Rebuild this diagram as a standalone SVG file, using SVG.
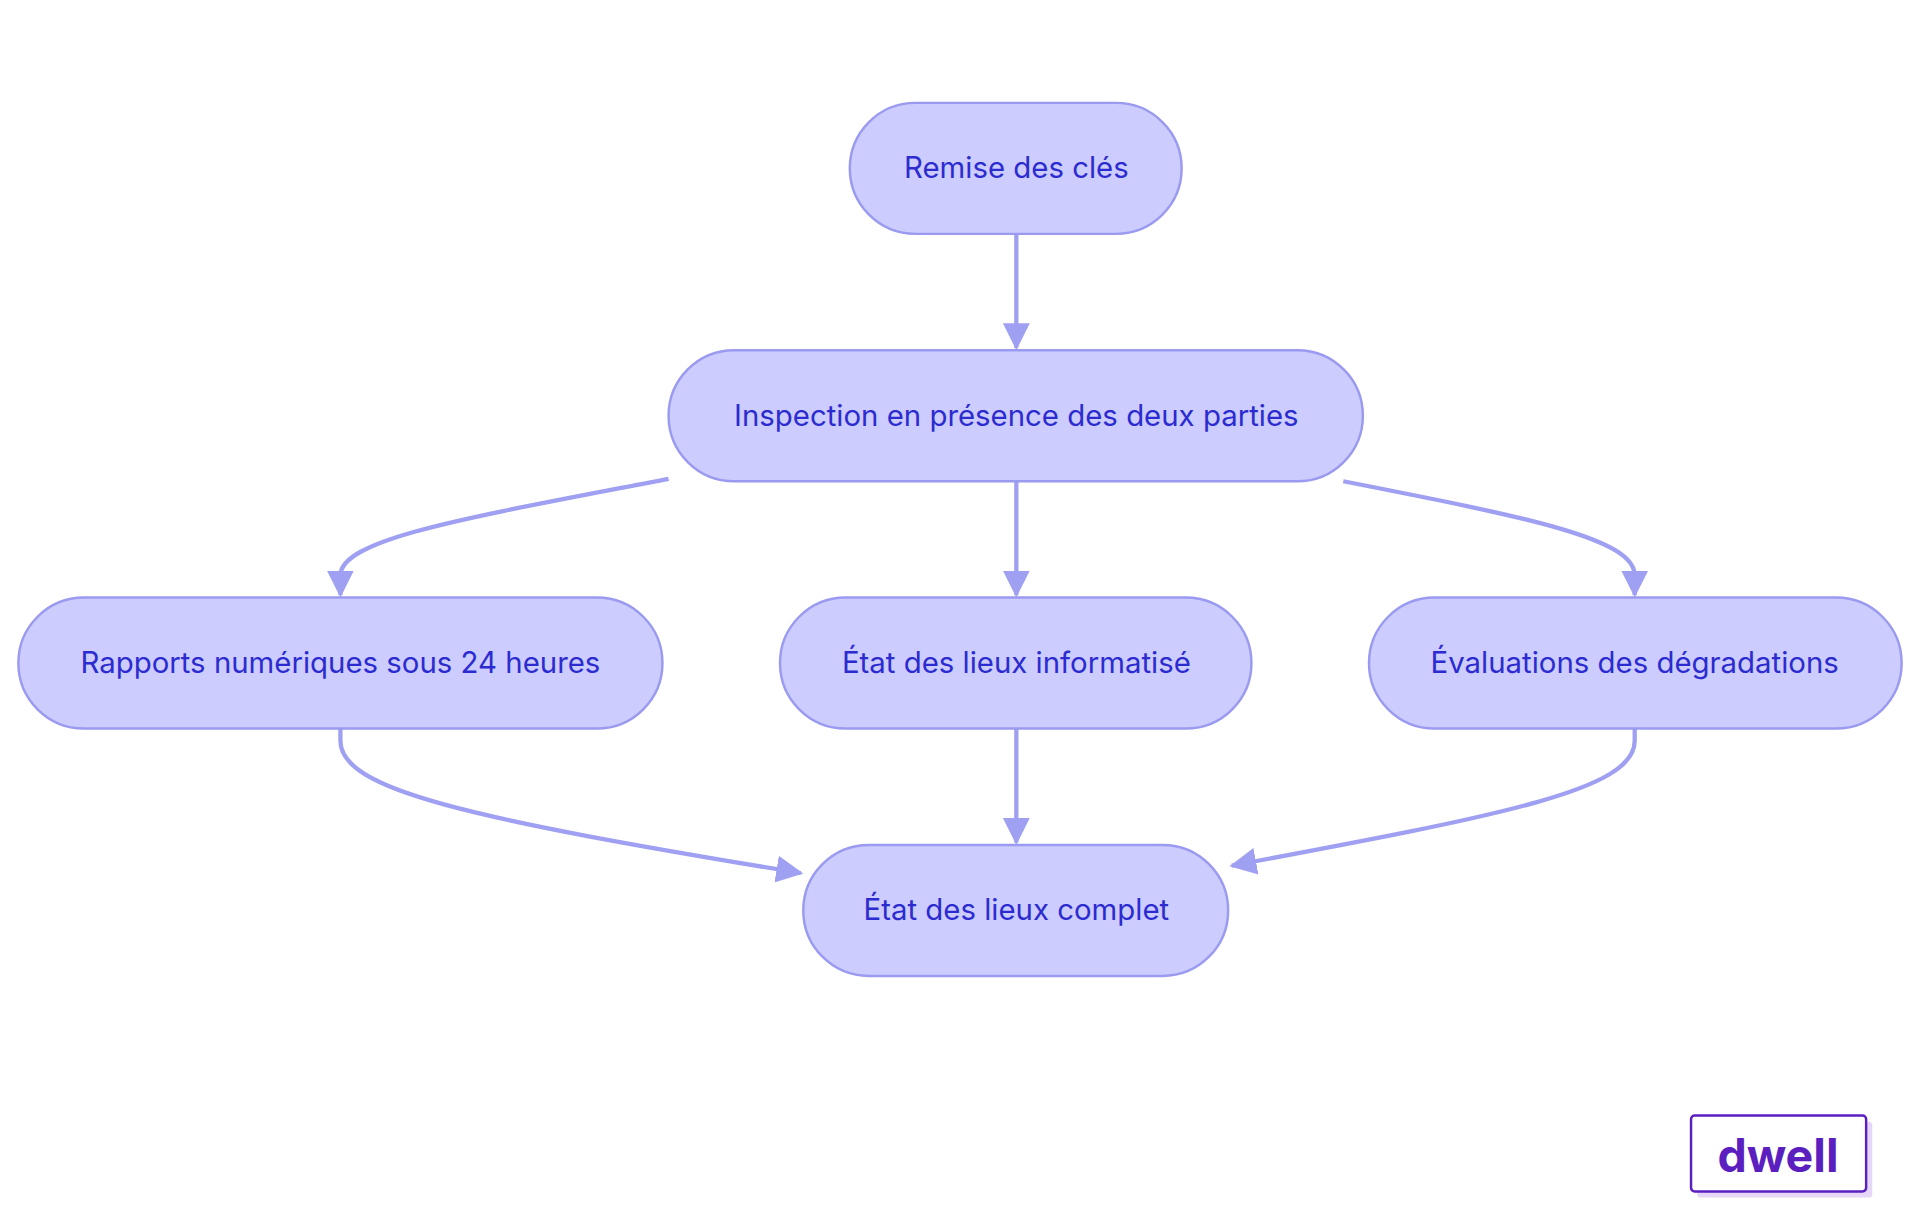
<svg xmlns="http://www.w3.org/2000/svg" width="1920" height="1215" viewBox="0 0 1920 1215">
<style>
.n rect{fill:#ccccff;stroke:#9a9af0;stroke-width:2}
.n text{font-family:Inter,"Noto Sans",sans-serif;font-size:24px;fill:#2b2bd0;text-anchor:middle;dominant-baseline:central}
.e path{fill:none;stroke:#9fa0f2;stroke-width:3.5}
</style>
<defs>
<marker id="a" markerUnits="userSpaceOnUse" markerWidth="24" markerHeight="24" viewBox="0 0 24 24" refX="20" refY="12" orient="auto">
<path d="M0,1 L22,12 L0,23 Z" fill="#9fa0f2"/>
</marker>
</defs>
<rect width="1920" height="1215" fill="#fff"/>
<g transform="scale(1.2245)">
<g class="e">
<path d="M830,191 L830,284" marker-end="url(#a)"/>
<path d="M546,391 C380,423 278,440 278,470 L278,486" marker-end="url(#a)"/>
<path d="M830,393 L830,486" marker-end="url(#a)"/>
<path d="M1097,393 C1250,423 1335,440 1335,470 L1335,486" marker-end="url(#a)"/>
<path d="M278,595 L278,605 C278,645 380,668 654,713" marker-end="url(#a)"/>
<path d="M830,595 L830,688" marker-end="url(#a)"/>
<path d="M1335,595 L1335,605 C1335,645 1230,665 1006,707" marker-end="url(#a)"/>
</g>
<g id="n1" class="n"><rect x="694" y="84" width="271" height="107" rx="53.5"/><text x="830" y="137">Remise des clés</text></g>
<g id="n2" class="n"><rect x="546" y="286" width="567" height="107" rx="53.5"/><text x="830" y="339">Inspection en présence des deux parties</text></g>
<g id="n3" class="n"><rect x="15" y="488" width="526" height="107" rx="53.5"/><text x="278" y="541">Rapports numériques sous 24 heures</text></g>
<g id="n4" class="n"><rect x="637" y="488" width="385" height="107" rx="53.5"/><text x="830" y="541">État des lieux informatisé</text></g>
<g id="n5" class="n"><rect x="1118" y="488" width="435" height="107" rx="53.5"/><text x="1335" y="541">Évaluations des dégradations</text></g>
<g id="n6" class="n"><rect x="656" y="690" width="347" height="107" rx="53.5"/><text x="830" y="743">État des lieux complet</text></g>
<g id="logo">
<rect x="1386" y="916" width="143" height="62" rx="3" fill="#e6d6f8"/>
<rect x="1381" y="911" width="143" height="62" rx="3" fill="#fff" stroke="#5b1fc0" stroke-width="2"/>
<text x="1452" y="943" font-family="Inter,'Noto Sans',sans-serif" font-size="38" font-weight="bold" fill="#5b1fc0" text-anchor="middle" dominant-baseline="central">dwell</text>
</g>
</g>
</svg>
